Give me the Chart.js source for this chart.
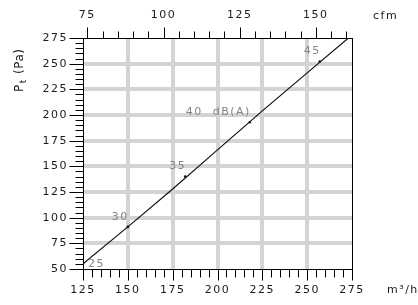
<!DOCTYPE html>
<html>
<head>
<meta charset="utf-8">
<script src="https://cdn.jsdelivr.net/npm/chart.js@4"></script>
<style>
  html, body { margin: 0; padding: 0; background: #fff; }
  #wrap { width: 418px; height: 305px; }
</style>
</head>
<body>
<div id="wrap"><canvas id="fanChart"></canvas></div>
<script>
"use strict";
// system curve: air flow (m3/h) against total pressure (Pa)
const flow = [125, 150, 175, 200, 225, 250, 273];
const pressure = [55, 91, 128, 166, 204, 241, 275];
// sound level marks along the curve
const dbLabels = ["25", "30", "35", "40  dB(A)", "45"];
const dbFlow = [125, 150, 182, 218, 257];
const dbPressure = [55, 91, 140, 193, 252];
// axes
const flowRange = [125, 275];
const pressureRange = [50, 275];
const cfmPerM3h = 1 / 1.699;
const majorStep = 25;
const minorStep = 5;

const gridGray = "#d4d4d4";
const textDark = "#1a1a1a";
const textGray = "#858585";
const tickFont = { family: "DejaVu Sans", size: 11 };

function isMajor(v) {
  return Math.abs(v / majorStep - Math.round(v / majorStep)) < 1e-6;
}
function majorLabel(v) {
  return isMajor(v) ? String(Math.round(v)) : "";
}
// thick gray grid only on inner major values
function gridColor(range) {
  return function (ctx) {
    const v = ctx.tick.value;
    if (!isMajor(v) || v <= range[0] || v >= range[1]) return "rgba(0,0,0,0)";
    return gridGray;
  };
}

// tick marks walked over the scale range in minor steps, longer on majors
function drawMarks(ctx, scale, side, edge, majorLen, minorLen) {
  const first = Math.ceil(scale.min / minorStep - 1e-9) * minorStep;
  for (let v = first; v <= scale.max + 1e-9; v += minorStep) {
    const len = isMajor(v) ? majorLen : minorLen;
    const p = Math.round(scale.getPixelForValue(v)) + 0.5;
    ctx.beginPath();
    if (side === "left") { ctx.moveTo(edge, p); ctx.lineTo(edge - len, p); }
    else if (side === "bottom") { ctx.moveTo(p, edge); ctx.lineTo(p, edge + len); }
    else { ctx.moveTo(p, edge); ctx.lineTo(p, edge - len); }
    ctx.stroke();
  }
}

const decorations = {
  id: "decorations",
  beforeDraw(chart) {
    chart.ctx.letterSpacing = "1.5px";
  },
  afterDatasetsDraw(chart) {
    const ctx = chart.ctx;
    const xs = chart.scales.x;
    const ys = chart.scales.y;
    ctx.save();
    ctx.font = "11px 'DejaVu Sans'";
    ctx.fillStyle = textGray;
    ctx.letterSpacing = "1.5px";
    ctx.textBaseline = "middle";
    dbLabels.forEach(function (lbl, i) {
      const px = xs.getPixelForValue(dbFlow[i]);
      const py = ys.getPixelForValue(dbPressure[i]);
      if (i === 0) {
        ctx.textAlign = "left";
        ctx.fillText(lbl, px + 5, py);
      } else {
        ctx.textAlign = "right";
        ctx.fillText(lbl, px + 1, py - 10);
      }
    });
    ctx.restore();
  },
  afterDraw(chart) {
    const ctx = chart.ctx;
    const a = chart.chartArea;
    const L = Math.round(a.left) + 0.5, R = Math.round(a.right) + 0.5;
    const T = Math.round(a.top) + 0.5, B = Math.round(a.bottom) + 0.5;
    ctx.save();
    ctx.lineWidth = 1;
    ctx.strokeStyle = "#000";
    drawMarks(ctx, chart.scales.x2, "top", T, 11, 7);
    drawMarks(ctx, chart.scales.y, "left", L, 14, 8);
    drawMarks(ctx, chart.scales.x, "bottom", B, 11, 8);
    ctx.strokeRect(L, T, R - L, B - T);

    // unit labels
    ctx.fillStyle = textDark;
    ctx.font = "11px 'DejaVu Sans'";
    ctx.letterSpacing = "1.5px";
    ctx.textAlign = "left";
    ctx.textBaseline = "middle";
    ctx.fillText("cfm", a.right + 21, 16);
    ctx.fillText("m\u00B3/h", a.right + 35, 290);

    // y title: P with subscript t, rotated
    ctx.letterSpacing = "0.5px";
    ctx.translate(20, 92);
    ctx.rotate(-Math.PI / 2);
    ctx.font = "12px 'DejaVu Sans'";
    ctx.fillText("P", 0, 0);
    let w = ctx.measureText("P").width;
    ctx.font = "9px 'DejaVu Sans'";
    ctx.fillText("t", w + 1, 4);
    w += ctx.measureText("t").width + 2;
    ctx.font = "12px 'DejaVu Sans'";
    ctx.fillText(" (Pa)", w, 0);
    ctx.restore();
  }
};

const fanChart = new Chart(document.querySelector("#fanChart"), {
  type: "scatter",
  data: {
    datasets: [
      {
        data: flow.map(function (f, i) { return { x: f, y: pressure[i] }; }),
        showLine: true,
        borderColor: "#111",
        borderWidth: 1.2,
        pointRadius: 0,
        tension: 0
      },
      {
        data: dbFlow.map(function (f, i) { return { x: f, y: dbPressure[i] }; }),
        pointRadius: 1.3,
        pointBackgroundColor: "#111",
        pointBorderWidth: 0
      }
    ]
  },
  options: {
    responsive: true,
    maintainAspectRatio: false,
    animation: false,
    layout: { padding: { left: 0, right: 66, top: 0, bottom: 0 } },
    plugins: { legend: { display: false }, tooltip: { enabled: false } },
    scales: {
      x: {
        type: "linear",
        position: "bottom",
        min: flowRange[0],
        max: flowRange[1],
        afterFit: function (s) { s.height = 36; },
        border: { display: false },
        grid: { color: gridColor(flowRange), lineWidth: 4, drawTicks: false },
        ticks: {
          stepSize: minorStep,
          includeBounds: false,
          autoSkip: false,
          maxRotation: 0,
          padding: 15,
          color: textDark,
          font: tickFont,
          callback: majorLabel
        }
      },
      x2: {
        type: "linear",
        position: "top",
        min: flowRange[0] * cfmPerM3h,
        max: flowRange[1] * cfmPerM3h,
        afterFit: function (s) { s.height = 38; },
        border: { display: false },
        grid: { drawOnChartArea: false, drawTicks: false },
        ticks: {
          stepSize: minorStep,
          includeBounds: false,
          autoSkip: false,
          maxRotation: 0,
          padding: 16,
          color: textDark,
          font: tickFont,
          callback: majorLabel
        }
      },
      y: {
        type: "linear",
        position: "left",
        min: pressureRange[0],
        max: pressureRange[1],
        afterFit: function (s) { s.width = 83; },
        border: { display: false },
        grid: { color: gridColor(pressureRange), lineWidth: 4, drawTicks: false },
        ticks: {
          stepSize: minorStep,
          includeBounds: false,
          autoSkip: false,
          padding: 15,
          color: textDark,
          font: tickFont,
          callback: majorLabel
        }
      }
    }
  },
  plugins: [decorations]
});
</script>
</body>
</html>
